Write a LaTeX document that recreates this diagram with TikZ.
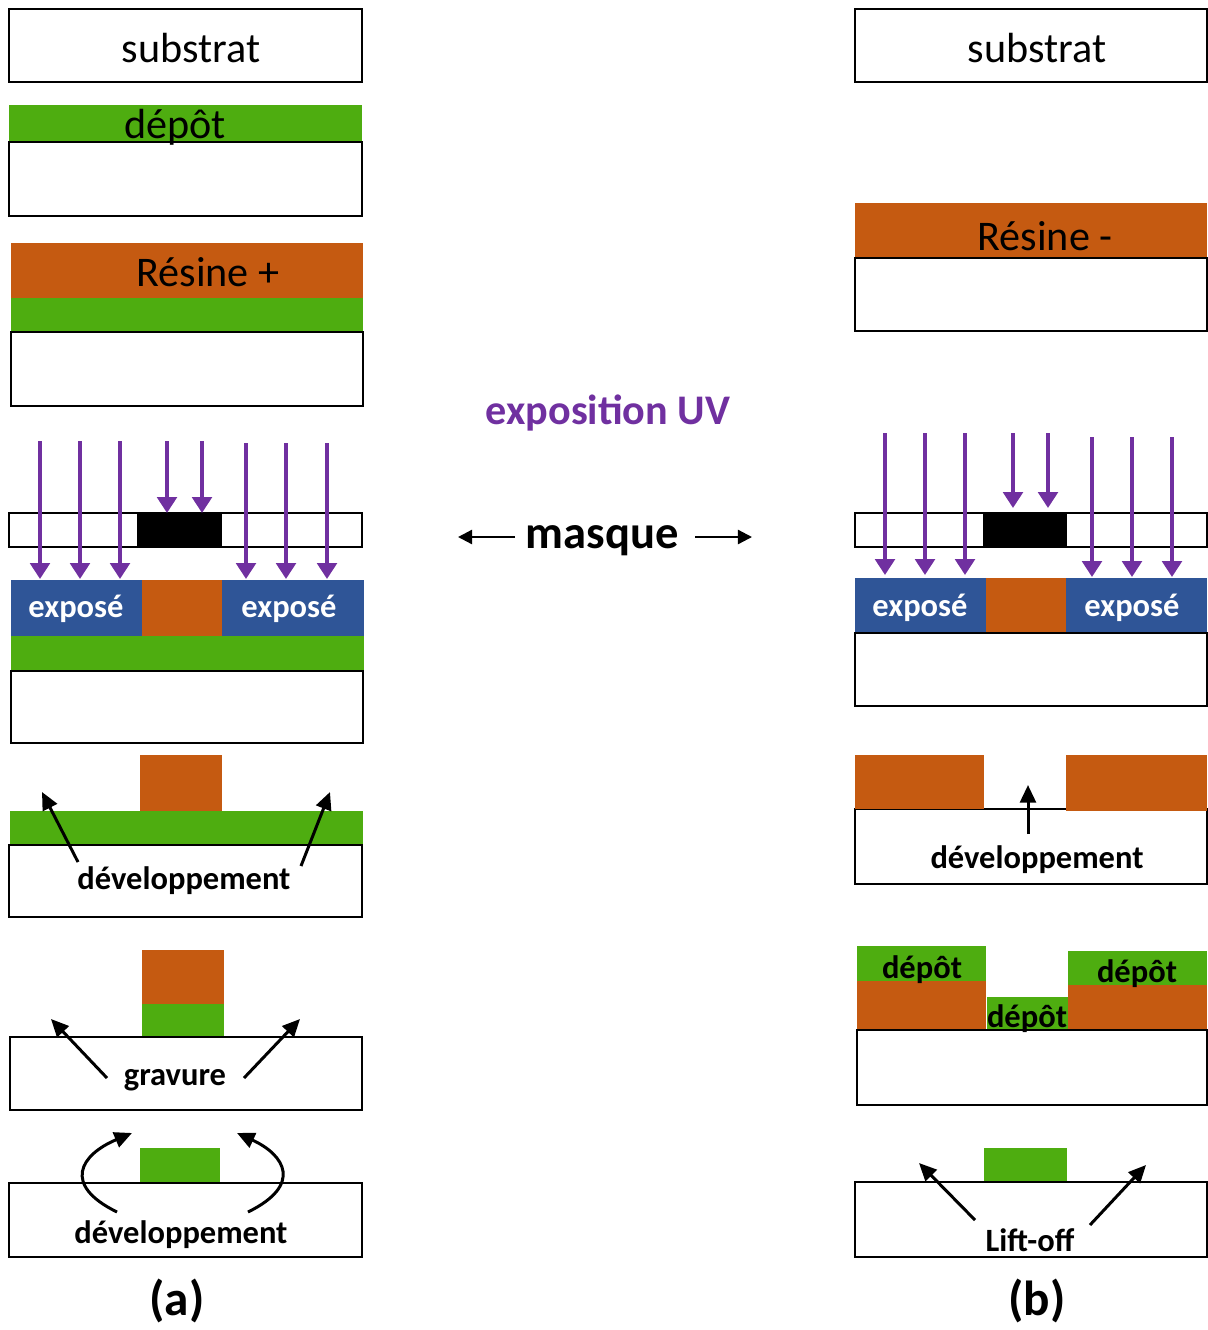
\documentclass[tikz,border=0pt]{standalone}
\usepackage{fontspec}
\setmainfont{Carlito}
\usetikzlibrary{arrows.meta}
\definecolor{vert}{RGB}{78,173,16}
\definecolor{resine}{RGB}{197,90,17}
\definecolor{bleu}{RGB}{47,85,151}
\definecolor{uvcol}{RGB}{112,48,160}
\tikzset{
  boite/.style={draw=black, line width=1.1pt, fill=white},
  uv/.style={-{Triangle[width=11pt,length=9pt]}, line width=2.3pt, draw=uvcol},
  fleche/.style={-{Triangle[width=9pt,length=10pt]}, line width=1.7pt},
  txt/.style={font=\fontsize{24}{28}\selectfont, inner sep=0pt},
  gras/.style={font=\bfseries\fontsize{18.5}{22}\selectfont, inner sep=0pt},
}

\begin{document}
\begin{tikzpicture}[x=0.02cm,y=-0.02cm]
\useasboundingbox (0,0) rectangle (1208,1330);

% (a) resine positive
\draw[boite] (9,9) rectangle (362,82);
\node[txt] (subA) at (191,48) {substrat};

\fill[vert] (9,105) rectangle (362,142);
\draw[boite] (9,142) rectangle (362,216);
\node[txt] (depA) at (175,127) {dépôt};

\fill[resine] (11,243) rectangle (363,298);
\fill[vert] (11,298) rectangle (363,332);
\draw[boite] (11,332) rectangle (363,406);
\node[txt] (resA) at (208,272) {Résine +};

\draw[boite] (9,513) rectangle (362,547);
\fill[black] (137,513) rectangle (222,547);
\fill[bleu] (11,580) rectangle (142,636);
\fill[resine] (142,580) rectangle (222,636);
\fill[bleu] (222,580) rectangle (364,636);
\fill[vert] (11,636) rectangle (364,671);
\draw[boite] (11,671) rectangle (363,743);
\node[gras,white] (expA1) at (76,609) {exposé};
\node[gras,white] (expA2) at (289,609) {exposé};
\foreach \x in {40,80,120} \draw[uv] (\x,441) -- (\x,579);
\foreach \x in {167,202} \draw[uv] (\x,441) -- (\x,513);
\foreach \x in {246,286,327} \draw[uv] (\x,443) -- (\x,579);

\fill[resine] (140,755) rectangle (222,811);
\fill[vert] (10,811) rectangle (363,845);
\draw[boite] (9,845) rectangle (362,917);
\node[gras] (devA) at (184,881) {développement};
\coordinate (devA1) at (78,862);
\coordinate (devA2) at (42,792);
\coordinate (devA3) at (301,866);
\coordinate (devA4) at (330,792);
\draw[fleche] (devA1) -- (devA2);
\draw[fleche] (devA3) -- (devA4);

\fill[resine] (142,950) rectangle (224,1004);
\fill[vert] (142,1004) rectangle (224,1038);
\draw[boite] (10,1037) rectangle (362,1110);
\node[gras] (grav) at (175,1080) {gravure};
\coordinate (gravA1) at (107,1078);
\coordinate (gravA2) at (51,1019);
\coordinate (gravA3) at (244,1078);
\coordinate (gravA4) at (300,1019);
\draw[fleche] (gravA1) -- (gravA2);
\draw[fleche] (gravA3) -- (gravA4);

\fill[vert] (140,1148) rectangle (220,1183);
\draw[boite] (9,1183) rectangle (362,1257);
\node[gras] (devB) at (181,1235) {développement};
\coordinate (devB1) at (117,1212);
\coordinate (devB2) at (132,1133);
\coordinate (devB3) at (248,1212);
\coordinate (devB4) at (237,1133);
\draw[fleche] (devB1) .. controls (62,1185) and (80,1155) .. (devB2);
\draw[fleche] (devB3) .. controls (303,1185) and (285,1155) .. (devB4);
\node[font=\bfseries\fontsize{28}{32}\selectfont, inner sep=0pt] (labA) at (177,1301) {(a)};

% milieu
\node[font=\bfseries\fontsize{24}{28}\selectfont, text=uvcol, inner sep=0pt] (expo) at (608,413) {exposition UV};
\node[font=\bfseries\fontsize{26.5}{30}\selectfont, inner sep=0pt] (masque) at (602,541) {masque};
\coordinate (mq1) at (515,537);
\coordinate (mq2) at (458,537);
\coordinate (mq3) at (695,537);
\coordinate (mq4) at (752,537);
\draw[-{Triangle[width=8pt,length=8pt]}, line width=1.3pt] (mq1) -- (mq2);
\draw[-{Triangle[width=8pt,length=8pt]}, line width=1.3pt] (mq3) -- (mq4);

% (b) resine negative
\draw[boite] (855,9) rectangle (1207,82);
\node[txt] (subB) at (1037,48) {substrat};

\fill[resine] (855,203) rectangle (1207,258);
\draw[boite] (855,258) rectangle (1207,331);
\node[txt] (resB) at (1045,236) {Résine -};

\draw[boite] (855,513) rectangle (1207,547);
\fill[black] (983,513) rectangle (1067,547);
\fill[bleu] (855,578) rectangle (986,633);
\fill[resine] (986,578) rectangle (1066,633);
\fill[bleu] (1066,578) rectangle (1207,633);
\draw[boite] (855,633) rectangle (1207,706);
\node[gras,white] (expB1) at (920,608) {exposé};
\node[gras,white] (expB2) at (1132,608) {exposé};
\foreach \x in {885,925,965} \draw[uv] (\x,433) -- (\x,575);
\foreach \x in {1013,1048} \draw[uv] (\x,433) -- (\x,508);
\foreach \x in {1092,1132,1172} \draw[uv] (\x,437) -- (\x,577);

\draw[boite] (855,809) rectangle (1207,884);
\fill[resine] (855,755) rectangle (984,809);
\fill[resine] (1066,755) rectangle (1207,811);
\node[gras] (devC) at (1037,860) {développement};
\coordinate (devC1) at (1028,834);
\coordinate (devC2) at (1028,785);
\draw[fleche] (devC1) -- (devC2);

\fill[vert] (857,946) rectangle (986,981);
\fill[resine] (857,981) rectangle (986,1030);
\fill[vert] (987,997) rectangle (1068,1030);
\fill[vert] (1068,951) rectangle (1207,985);
\fill[resine] (1068,985) rectangle (1207,1031);
\draw[boite] (857,1030) rectangle (1207,1105);
\node[gras] (depB1) at (922,970) {dépôt};
\node[gras] (depB2) at (1027,1019) {dépôt};
\node[gras] (depB3) at (1137,974) {dépôt};

\fill[vert] (984,1148) rectangle (1067,1182);
\draw[boite] (855,1182) rectangle (1207,1257);
\node[gras] (lift) at (1030,1240) {Lift-off};
\coordinate (lift1) at (975,1220);
\coordinate (lift2) at (919,1163);
\coordinate (lift3) at (1090,1225);
\coordinate (lift4) at (1146,1165);
\draw[fleche] (lift1) -- (lift2);
\draw[fleche] (lift3) -- (lift4);
\node[font=\bfseries\fontsize{28}{32}\selectfont, inner sep=0pt] (labB) at (1037,1301) {(b)};
\end{tikzpicture}
\end{document}
